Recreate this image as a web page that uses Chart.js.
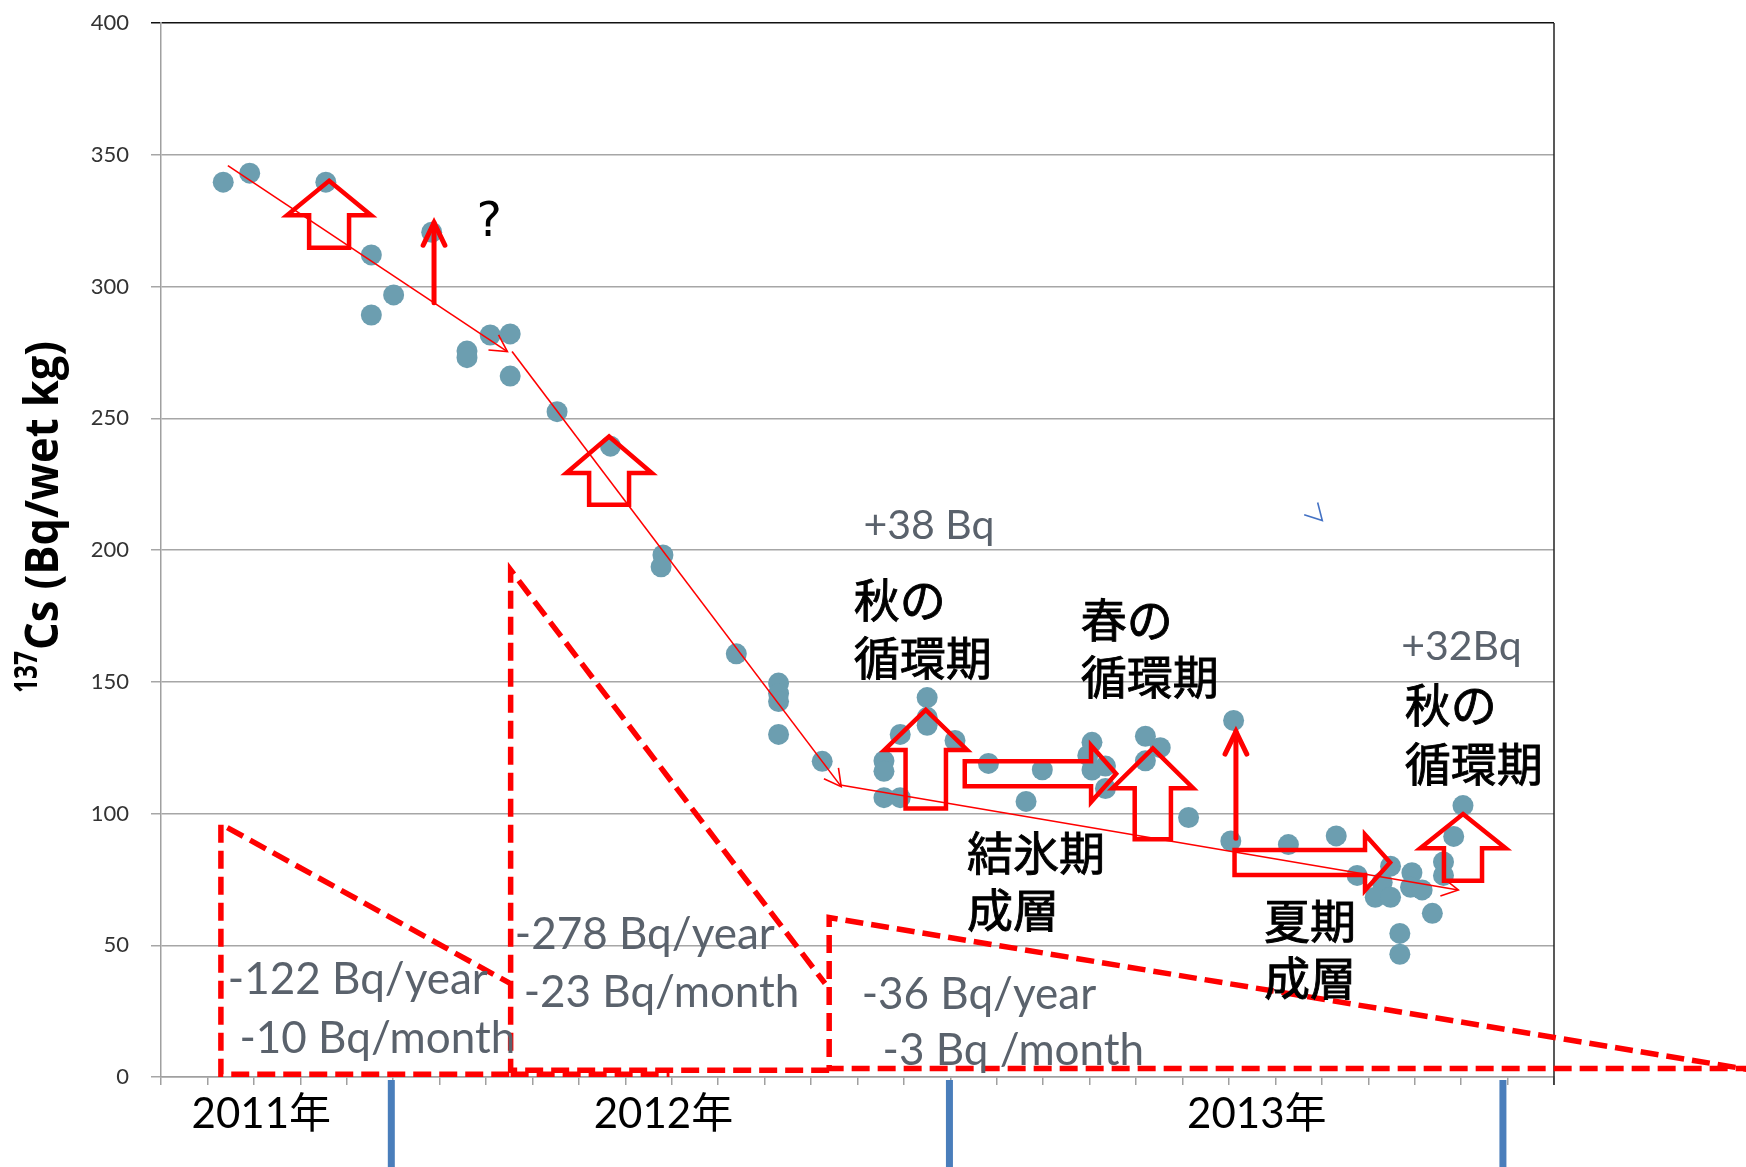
<!DOCTYPE html>
<html>
<head>
<meta charset="utf-8">
<script src="https://cdn.jsdelivr.net/npm/chart.js@4.4.1/dist/chart.umd.min.js"></script>
<style>
  body { margin: 0; background: #fff; }
  canvas { display: block; }
</style>
</head>
<body>
<canvas id="csChart" width="1746" height="1167"></canvas>
<script>
// x = months from the left edge of the axis, y = 137Cs (Bq/wet kg)
const sampleMonth = [1.34, 1.91, 3.55, 4.53, 4.53, 5.01, 5.83, 6.59, 6.59, 7.09, 7.52, 7.52, 8.53, 9.68,
  10.81, 10.77, 12.39, 13.30, 13.30, 13.30, 13.30, 14.24,
  15.57, 15.57, 15.57, 15.92, 15.92, 16.50, 16.50, 16.50, 17.10, 17.82, 18.63, 18.98,
  20.05, 19.96, 20.05, 20.34, 20.34, 21.20, 21.52, 21.20, 22.13, 23.10, 23.04, 24.28, 25.31,
  25.76, 26.48, 26.30, 26.15, 26.48, 26.94, 26.91, 27.16, 27.38, 26.68, 26.68, 27.62, 27.62, 27.84, 28.04];
const cs137 = [339.6, 343.0, 339.6, 312.0, 289.2, 296.8, 320.6, 275.5, 273.0, 281.6, 282.0, 266.0, 252.5, 239.4,
  198.1, 193.6, 160.6, 149.5, 145.5, 142.5, 130.0, 119.8,
  120.0, 116.0, 106.0, 106.0, 130.0, 144.0, 136.5, 133.5, 127.7, 119.0, 104.6, 116.6,
  127.0, 122.0, 116.5, 118.0, 109.5, 129.3, 125.0, 120.0, 98.5, 135.3, 89.6, 88.2, 91.5,
  76.5, 80.0, 73.9, 68.2, 68.2, 77.5, 72.0, 71.0, 62.1, 54.5, 46.6, 81.6, 76.5, 91.3, 103.0];

const yTickValues = [0, 50, 100, 150, 200, 250, 300, 350, 400];
const yearLabels = ['2011年', '2012年', '2013年'];
const yearLabelMonth = [2.16, 10.82, 23.6];
const yearMarkMonth = [4.96, 16.98, 28.9];

// thin trend lines with arrow heads: [x1, y1, x2, y2]
const trendLines = [
  [1.44, 345.9, 7.46, 275.3],
  [7.56, 275.3, 14.65, 110.2],
  [14.63, 110.8, 27.94, 71.0]
];
// dashed rate triangles (polylines)
const rateShapes = [
  [[7.50, 1.0], [1.29, 1.0], [1.29, 96.0], [7.50, 35.7]],
  [[14.39, 2.6], [7.53, 2.6], [7.53, 192.4], [14.30, 35.5]],
  [[7.53, 1.0], [10.95, 1.0]],
  [[34.3, 3.2], [14.39, 3.2], [14.39, 60.5], [34.3, 2.5]]
];
// hollow up arrows: [centre x, tip, head half width, head base, shaft half width, tail]
const upArrows = [
  [3.62, 340.1, 0.905, 327.0, 0.43, 314.7],
  [9.65, 243.1, 0.92, 229.2, 0.43, 217.2],
  [16.47, 139.3, 0.89, 124.1, 0.435, 101.9],
  [21.36, 124.7, 0.87, 109.6, 0.39, 90.2],
  [28.04, 99.8, 0.92, 86.8, 0.41, 74.5]
];
// hollow right arrows: [centre y, tip, head half height, head base, shaft half height, tail]
const rightArrows = [
  [115.1, 20.57, 10.75, 20.03, 4.75, 17.31],
  [81.4, 26.47, 10.6, 25.93, 4.75, 23.12]
];
// thick line arrows: [x, from, to]
const riseArrows = [
  [5.88, 293.8, 324.2],
  [23.15, 90.6, 131.1]
];

const grayNotes = [
  ['-122 Bq/year', 1.44, 37.4], ['-10 Bq/month', 1.69, 15.3],
  ['-278 Bq/year', 7.62, 54.5], ['-23 Bq/month', 7.81, 32.6],
  ['-36 Bq/year', 15.09, 32.0], ['-3 Bq /month', 15.54, 10.5],
  ['+38 Bq', 15.13, 209.6], ['+32Bq', 26.71, 163.7]
];
const seasonNotes = [
  ['秋の', 14.96, 181.1], ['循環期', 14.96, 159.2],
  ['春の', 19.85, 173.5], ['循環期', 19.85, 151.9],
  ['秋の', 26.83, 141.5], ['循環期', 26.83, 119.0],
  ['結氷期', 17.40, 85.2], ['成層', 17.40, 63.6],
  ['夏期', 23.80, 59.5], ['成層', 23.80, 37.7]
];
const strayMark = [[24.62, 213.4], [25.01, 211.2], [24.91, 218.0]];

const points = sampleMonth.map((m, i) => ({ x: m, y: cs137[i] }));

function openHead(ctx, x1, y1, x2, y2, len, ang) {
  const a = Math.atan2(y2 - y1, x2 - x1);
  ctx.beginPath();
  ctx.moveTo(x2 - len * Math.cos(a - ang), y2 - len * Math.sin(a - ang));
  ctx.lineTo(x2, y2);
  ctx.lineTo(x2 - len * Math.cos(a + ang), y2 - len * Math.sin(a + ang));
  ctx.stroke();
}

const annotate = {
  id: 'annotate',
  afterDraw(chart) {
    const ctx = chart.ctx;
    const xs = chart.scales.x, ys = chart.scales.y;
    const px = v => xs.getPixelForValue(v);
    const py = v => ys.getPixelForValue(v);
    const area = chart.chartArea;
    ctx.save();

    // right border of the plot
    ctx.strokeStyle = '#222';
    ctx.lineWidth = 1.5;
    ctx.beginPath();
    ctx.moveTo(area.right, area.top);
    ctx.lineTo(area.right, area.bottom + 8);
    ctx.stroke();

    // dashed triangles
    ctx.strokeStyle = '#ff0000';
    ctx.lineWidth = 5.5;
    ctx.setLineDash([18, 8]);
    ctx.lineJoin = 'miter';
    rateShapes.forEach(s => {
      ctx.beginPath();
      s.forEach((p, i) => i ? ctx.lineTo(px(p[0]), py(p[1])) : ctx.moveTo(px(p[0]), py(p[1])));
      ctx.stroke();
    });
    ctx.setLineDash([]);

    // trend lines
    ctx.lineWidth = 1.6;
    trendLines.forEach(t => {
      const x1 = px(t[0]), y1 = py(t[1]), x2 = px(t[2]), y2 = py(t[3]);
      ctx.beginPath();
      ctx.moveTo(x1, y1);
      ctx.lineTo(x2, y2);
      ctx.stroke();
      openHead(ctx, x1, y1, x2, y2, 19, 0.5);
    });

    // hollow block arrows
    ctx.lineWidth = 4.5;
    const poly = pts => {
      ctx.beginPath();
      pts.forEach((p, i) => i ? ctx.lineTo(px(p[0]), py(p[1])) : ctx.moveTo(px(p[0]), py(p[1])));
      ctx.closePath();
      ctx.stroke();
    };
    upArrows.forEach(([cx, tip, hh, hb, sh, tail]) => poly([
      [cx, tip], [cx + hh, hb], [cx + sh, hb], [cx + sh, tail], [cx - sh, tail], [cx - sh, hb], [cx - hh, hb]
    ]));
    rightArrows.forEach(([cy, tip, hh, hb, sh, tail]) => poly([
      [tip, cy], [hb, cy - hh], [hb, cy - sh], [tail, cy - sh], [tail, cy + sh], [hb, cy + sh], [hb, cy + hh]
    ]));

    // thick rise arrows
    ctx.lineWidth = 5;
    ctx.lineCap = 'round';
    riseArrows.forEach(([m, v1, v2]) => {
      const x = px(m), y1 = py(v1), y2 = py(v2);
      ctx.beginPath();
      ctx.moveTo(x, y1);
      ctx.lineTo(x, y2);
      ctx.stroke();
      openHead(ctx, x, y1, x, y2, 25, 0.45);
    });
    ctx.lineCap = 'butt';

    // small blue stray mark
    ctx.strokeStyle = '#4472c4';
    ctx.lineWidth = 1.6;
    ctx.beginPath();
    strayMark.forEach((p, i) => i ? ctx.lineTo(px(p[0]), py(p[1])) : ctx.moveTo(px(p[0]), py(p[1])));
    ctx.stroke();

    // blue year marks below the axis
    ctx.fillStyle = '#4a7ebb';
    yearMarkMonth.forEach(m => ctx.fillRect(px(m) - 3.5, area.bottom + 3, 7, chart.height - area.bottom));

    // year labels
    ctx.fillStyle = '#000';
    ctx.textAlign = 'center';
    ctx.textBaseline = 'alphabetic';
    ctx.font = "42px Lato, 'Noto Sans CJK JP'";
    yearLabels.forEach((t, i) => ctx.fillText(t, px(yearLabelMonth[i]), py(-13.8) + 15));

    // gray rate notes
    ctx.textAlign = 'left';
    ctx.fillStyle = '#5a626c';
    grayNotes.forEach(([t, m, v]) => {
      const size = t[0] === '+' ? 41 : 44;
      ctx.font = size + 'px Lato';
      ctx.fillText(t, px(m), py(v) + size * 0.36);
    });

    // season notes
    ctx.fillStyle = '#000';
    ctx.strokeStyle = '#000';
    ctx.lineWidth = 0.9;
    ctx.textBaseline = 'middle';
    ctx.font = "46px 'Noto Sans CJK JP'";
    seasonNotes.forEach(([t, m, v]) => {
      ctx.fillText(t, px(m) - 2, py(v));
      ctx.strokeText(t, px(m) - 2, py(v));
    });

    ctx.textAlign = 'center';
    ctx.font = "48px 'DejaVu Sans'";
    ctx.fillText('?', px(7.07), py(323.9));

    // y axis title with superscript
    ctx.save();
    ctx.translate(58, 693);
    ctx.rotate(-Math.PI / 2);
    ctx.textAlign = 'left';
    ctx.textBaseline = 'alphabetic';
    ctx.font = "bold 32px 'Open Sans'";
    let w = ctx.measureText('137').width;
    ctx.save();
    ctx.translate(0, -21);
    ctx.scale(42 / w, 1);
    ctx.fillText('137', 0, 0);
    ctx.restore();
    ctx.font = "bold 46px 'Open Sans'";
    w = ctx.measureText('Cs (Bq/wet kg)').width;
    ctx.save();
    ctx.translate(43, 0);
    ctx.scale(309 / w, 1);
    ctx.fillText('Cs (Bq/wet kg)', 0, 0);
    ctx.restore();
    ctx.restore();

    ctx.restore();
  }
};

new Chart(document.getElementById('csChart'), {
  type: 'scatter',
  data: {
    datasets: [{
      data: points,
      backgroundColor: '#6c9eb0',
      borderWidth: 0,
      pointRadius: 10.5,
      pointHoverRadius: 10.5
    }]
  },
  options: {
    responsive: false,
    devicePixelRatio: 1,
    animation: false,
    layout: { padding: { left: 0, top: 23, right: 192, bottom: 0 } },
    plugins: { legend: { display: false }, tooltip: { enabled: false } },
    scales: {
      x: {
        type: 'linear',
        min: 0,
        max: 30,
        afterFit: s => { s.height = 90; s.paddingLeft = 0; s.paddingRight = 0; },
        ticks: { stepSize: 1, autoSkip: false, maxTicksLimit: 40, callback: () => '', font: { size: 4 } },
        grid: { drawOnChartArea: false, tickLength: 8, color: '#a0a0a0', lineWidth: 1.5 },
        border: { color: '#a0a0a0', width: 1.5 }
      },
      y: {
        min: 0,
        max: 400,
        afterFit: s => { s.width = 161; s.paddingTop = 0; s.paddingBottom = 0; },
        afterBuildTicks: s => { s.ticks = yTickValues.map(v => ({ value: v })); },
        ticks: { padding: 22, color: '#333', font: { family: 'Lato', size: 22 } },
        grid: {
          tickLength: 10,
          lineWidth: 1.5,
          color: c => (c.tick && c.tick.value === 400 ? '#111' : '#a6a6a6')
        },
        border: { color: '#a0a0a0', width: 1.5 }
      }
    }
  },
  plugins: [annotate]
});
</script>
</body>
</html>
